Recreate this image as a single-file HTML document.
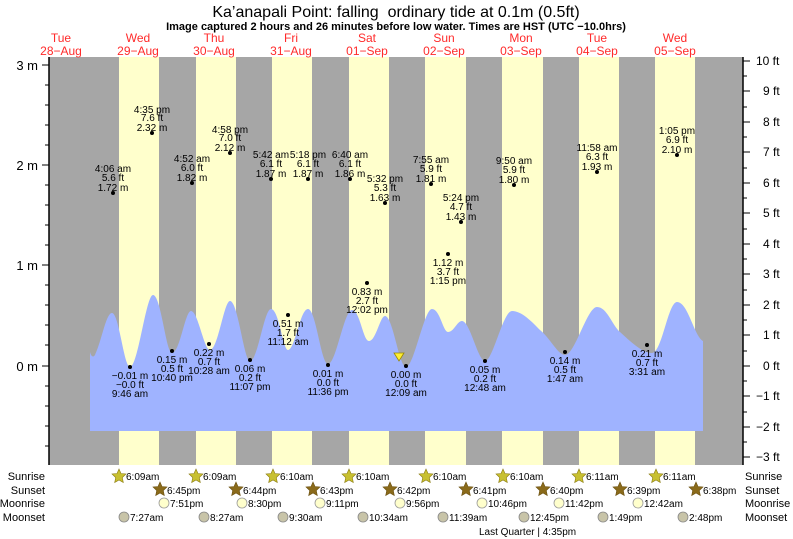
<!DOCTYPE html>
<html><head><meta charset="utf-8"><style>
body{margin:0;background:#fff}
svg{display:block;font-family:"Liberation Sans",sans-serif}
</style></head><body>
<svg width="793" height="539" xmlns="http://www.w3.org/2000/svg">
<rect x="49" y="57" width="694" height="408" fill="#a6a6a6"/>
<g fill="#ffffcc">
<rect x="119" y="57" width="40" height="408"/><rect x="196" y="57" width="40" height="408"/>
<rect x="272" y="57" width="40" height="408"/><rect x="349" y="57" width="40" height="408"/>
<rect x="425" y="57" width="41" height="408"/><rect x="502" y="57" width="41" height="408"/>
<rect x="579" y="57" width="40" height="408"/><rect x="655" y="57" width="40" height="408"/>
</g>
<path fill="#9fb3ff" d="M90,431 L90,352 C91,356 93,358 95,355 C102,340 106,313 112,313 C119,313 124,367 130,367 C138,367 146,295 153,295 C161,295 166,353 172,353 C180,353 185,311 191,311 C198,311 204,350 210,350 C218,350 224,301 230,301 C238,301 244,361 250,361 C258,361 264,309 271,309 C279,309 283,350 288,350 C295,350 300,309 308,309 C316,309 321,364 328,364 C336,364 344,310 352,310 C360,310 363,341 369,341 C376,341 380,316 385,316 C393,316 399,367 406,367 C414,367 424,309 432,309 C440,309 443,332 448,332 C454,332 457,321 462,321 C470,321 478,361 485,361 C493,361 503,311 512,311 C522,311 532,322 540,330 C550,338 558,355 565,355 C575,355 587,307 597,307 C607,307 612,325 620,332 C630,341 642,353 652,353 C662,353 668,302 677,302 C688,302 694,336 703,341 L703,431 Z"/>
<line x1="49" y1="57" x2="49" y2="465" stroke="#000" stroke-width="1.5"/>
<line x1="743" y1="57" x2="743" y2="465" stroke="#000" stroke-width="1.5"/>
<g stroke="#000" stroke-width="1">
<line x1="42" y1="65" x2="49" y2="65"/><line x1="42" y1="165" x2="49" y2="165"/><line x1="42" y1="265" x2="49" y2="265"/><line x1="42" y1="366" x2="49" y2="366"/>
<line x1="45" y1="85" x2="49" y2="85"/><line x1="45" y1="105" x2="49" y2="105"/><line x1="45" y1="125" x2="49" y2="125"/><line x1="45" y1="145" x2="49" y2="145"/>
<line x1="45" y1="185" x2="49" y2="185"/><line x1="45" y1="205" x2="49" y2="205"/><line x1="45" y1="225" x2="49" y2="225"/><line x1="45" y1="245" x2="49" y2="245"/>
<line x1="45" y1="285" x2="49" y2="285"/><line x1="45" y1="305" x2="49" y2="305"/><line x1="45" y1="325" x2="49" y2="325"/><line x1="45" y1="345" x2="49" y2="345"/>
<line x1="45" y1="386" x2="49" y2="386"/><line x1="45" y1="406" x2="49" y2="406"/><line x1="45" y1="426" x2="49" y2="426"/><line x1="45" y1="446" x2="49" y2="446"/>
</g>
<g stroke="#000" stroke-width="1">
<line x1="743" y1="61" x2="750" y2="61"/><line x1="743" y1="91" x2="750" y2="91"/><line x1="743" y1="122" x2="750" y2="122"/><line x1="743" y1="152" x2="750" y2="152"/><line x1="743" y1="183" x2="750" y2="183"/><line x1="743" y1="213" x2="750" y2="213"/><line x1="743" y1="244" x2="750" y2="244"/><line x1="743" y1="274" x2="750" y2="274"/><line x1="743" y1="305" x2="750" y2="305"/><line x1="743" y1="335" x2="750" y2="335"/><line x1="743" y1="366" x2="750" y2="366"/><line x1="743" y1="396" x2="750" y2="396"/><line x1="743" y1="427" x2="750" y2="427"/><line x1="743" y1="457" x2="750" y2="457"/>
<line x1="743" y1="76" x2="747" y2="76"/><line x1="743" y1="107" x2="747" y2="107"/><line x1="743" y1="137" x2="747" y2="137"/><line x1="743" y1="168" x2="747" y2="168"/><line x1="743" y1="198" x2="747" y2="198"/><line x1="743" y1="229" x2="747" y2="229"/><line x1="743" y1="259" x2="747" y2="259"/><line x1="743" y1="290" x2="747" y2="290"/><line x1="743" y1="320" x2="747" y2="320"/><line x1="743" y1="351" x2="747" y2="351"/><line x1="743" y1="381" x2="747" y2="381"/><line x1="743" y1="412" x2="747" y2="412"/><line x1="743" y1="442" x2="747" y2="442"/>
</g>
<g font-size="13" fill="#000">
<text x="38" y="70" text-anchor="end">3 m</text><text x="38" y="170" text-anchor="end">2 m</text><text x="38" y="270" text-anchor="end">1 m</text><text x="38" y="371" text-anchor="end">0 m</text>
</g>
<g font-size="12" fill="#000">
<text x="756" y="65">10 ft</text><text x="763" y="95">9 ft</text><text x="763" y="126">8 ft</text><text x="763" y="156">7 ft</text><text x="763" y="187">6 ft</text><text x="763" y="217">5 ft</text><text x="763" y="248">4 ft</text><text x="763" y="278">3 ft</text><text x="763" y="309">2 ft</text><text x="763" y="339">1 ft</text><text x="763" y="370">0 ft</text><text x="756" y="400">−1 ft</text><text x="756" y="431">−2 ft</text><text x="756" y="461">−3 ft</text>
</g>
<text x="396" y="17" font-size="16" text-anchor="middle">Ka’anapali Point: falling&#160; ordinary tide at 0.1m (0.5ft)</text>
<text x="396" y="30" font-size="11" font-weight="bold" text-anchor="middle">Image captured 2 hours and 26 minutes before low water. Times are HST (UTC −10.0hrs)</text>
<g font-size="12" fill="#ff2a2a" text-anchor="middle">
<text x="61" y="42">Tue</text><text x="61" y="55">28−Aug</text>
<text x="138" y="42">Wed</text><text x="138" y="55">29−Aug</text>
<text x="214" y="42">Thu</text><text x="214" y="55">30−Aug</text>
<text x="291" y="42">Fri</text><text x="291" y="55">31−Aug</text>
<text x="367" y="42">Sat</text><text x="367" y="55">01−Sep</text>
<text x="444" y="42">Sun</text><text x="444" y="55">02−Sep</text>
<text x="521" y="42">Mon</text><text x="521" y="55">03−Sep</text>
<text x="597" y="42">Tue</text><text x="597" y="55">04−Sep</text>
<text x="675" y="42">Wed</text><text x="675" y="55">05−Sep</text>
</g>
<g font-size="10" fill="#000" text-anchor="middle">
<circle cx="113" cy="193" r="2"/><text x="113" y="172">4:06 am</text><text x="113" y="181">5.6 ft</text><text x="113" y="191">1.72 m</text>
<circle cx="152" cy="133" r="2"/><text x="152" y="113">4:35 pm</text><text x="152" y="121">7.6 ft</text><text x="152" y="131">2.32 m</text>
<circle cx="192" cy="183" r="2"/><text x="192" y="162">4:52 am</text><text x="192" y="171">6.0 ft</text><text x="192" y="181">1.82 m</text>
<circle cx="230" cy="153" r="2"/><text x="230" y="133">4:58 pm</text><text x="230" y="141">7.0 ft</text><text x="230" y="151">2.12 m</text>
<circle cx="271" cy="179" r="2"/><text x="271" y="158">5:42 am</text><text x="271" y="167">6.1 ft</text><text x="271" y="177">1.87 m</text>
<circle cx="308" cy="179" r="2"/><text x="308" y="158">5:18 pm</text><text x="308" y="167">6.1 ft</text><text x="308" y="177">1.87 m</text>
<circle cx="350" cy="179" r="2"/><text x="350" y="158">6:40 am</text><text x="350" y="167">6.1 ft</text><text x="350" y="177">1.86 m</text>
<circle cx="385" cy="203" r="2"/><text x="385" y="182">5:32 pm</text><text x="385" y="191">5.3 ft</text><text x="385" y="201">1.63 m</text>
<circle cx="431" cy="184" r="2"/><text x="431" y="163">7:55 am</text><text x="431" y="172">5.9 ft</text><text x="431" y="182">1.81 m</text>
<circle cx="461" cy="222" r="2"/><text x="461" y="201">5:24 pm</text><text x="461" y="210">4.7 ft</text><text x="461" y="220">1.43 m</text>
<circle cx="514" cy="185" r="2"/><text x="514" y="164">9:50 am</text><text x="514" y="173">5.9 ft</text><text x="514" y="183">1.80 m</text>
<circle cx="597" cy="172" r="2"/><text x="597" y="151">11:58 am</text><text x="597" y="160">6.3 ft</text><text x="597" y="170">1.93 m</text>
<circle cx="677" cy="155" r="2"/><text x="677" y="134">1:05 pm</text><text x="677" y="143">6.9 ft</text><text x="677" y="153">2.10 m</text>

<circle cx="448" cy="254" r="2"/><text x="448" y="266">1.12 m</text><text x="448" y="275">3.7 ft</text><text x="448" y="284">1:15 pm</text>
<circle cx="367" cy="283" r="2"/><text x="367" y="295">0.83 m</text><text x="367" y="304">2.7 ft</text><text x="367" y="313">12:02 pm</text>
<circle cx="288" cy="315" r="2"/><text x="288" y="327">0.51 m</text><text x="288" y="336">1.7 ft</text><text x="288" y="345">11:12 am</text>
<circle cx="130" cy="367" r="2"/><text x="130" y="379">−0.01 m</text><text x="130" y="388">−0.0 ft</text><text x="130" y="397">9:46 am</text>
<circle cx="172" cy="351" r="2"/><text x="172" y="363">0.15 m</text><text x="172" y="372">0.5 ft</text><text x="172" y="381">10:40 pm</text>
<circle cx="209" cy="344" r="2"/><text x="209" y="356">0.22 m</text><text x="209" y="365">0.7 ft</text><text x="209" y="374">10:28 am</text>
<circle cx="250" cy="360" r="2"/><text x="250" y="372">0.06 m</text><text x="250" y="381">0.2 ft</text><text x="250" y="390">11:07 pm</text>
<circle cx="328" cy="365" r="2"/><text x="328" y="377">0.01 m</text><text x="328" y="386">0.0 ft</text><text x="328" y="395">11:36 pm</text>
<circle cx="406" cy="366" r="2"/><text x="406" y="378">0.00 m</text><text x="406" y="387">0.0 ft</text><text x="406" y="396">12:09 am</text>
<circle cx="485" cy="361" r="2"/><text x="485" y="373">0.05 m</text><text x="485" y="382">0.2 ft</text><text x="485" y="391">12:48 am</text>
<circle cx="565" cy="352" r="2"/><text x="565" y="364">0.14 m</text><text x="565" y="373">0.5 ft</text><text x="565" y="382">1:47 am</text>
<circle cx="647" cy="345" r="2"/><text x="647" y="357">0.21 m</text><text x="647" y="366">0.7 ft</text><text x="647" y="375">3:31 am</text>
</g>
<path d="M394,353 L404,353 L399,361 Z" fill="#ffee33" stroke="#998800" stroke-width="0.8"/>
<g font-size="11" fill="#000">
<text x="45" y="480" text-anchor="end">Sunrise</text><text x="45" y="494" text-anchor="end">Sunset</text><text x="45" y="507" text-anchor="end">Moonrise</text><text x="45" y="521" text-anchor="end">Moonset</text>
<text x="745" y="480">Sunrise</text><text x="745" y="494">Sunset</text><text x="745" y="507">Moonrise</text><text x="745" y="521">Moonset</text>
</g>
<defs>
<polygon id="st" points="0,-7 2,-2.5 7,-2 3.3,1.5 4.3,6.5 0,4 -4.3,6.5 -3.3,1.5 -7,-2 -2,-2.5"/>
</defs>
<g font-size="10" fill="#000">
<g fill="#c8c030" stroke="#8a7a10" stroke-width="0.6">
<use href="#st" x="119" y="476"/><use href="#st" x="196" y="476"/><use href="#st" x="273" y="476"/><use href="#st" x="349" y="476"/><use href="#st" x="426" y="476"/><use href="#st" x="503" y="476"/><use href="#st" x="579" y="476"/><use href="#st" x="656" y="476"/>
</g>
<text x="126" y="480">6:09am</text><text x="203" y="480">6:09am</text><text x="280" y="480">6:10am</text><text x="356" y="480">6:10am</text><text x="433" y="480">6:10am</text><text x="510" y="480">6:10am</text><text x="586" y="480">6:11am</text><text x="663" y="480">6:11am</text>
<g fill="#8a6a1a" stroke="#6a5010" stroke-width="0.6">
<use href="#st" x="160" y="489"/><use href="#st" x="236" y="489"/><use href="#st" x="313" y="489"/><use href="#st" x="390" y="489"/><use href="#st" x="466" y="489"/><use href="#st" x="543" y="489"/><use href="#st" x="620" y="489"/><use href="#st" x="696" y="489"/>
</g>
<text x="167" y="494">6:45pm</text><text x="243" y="494">6:44pm</text><text x="320" y="494">6:43pm</text><text x="397" y="494">6:42pm</text><text x="473" y="494">6:41pm</text><text x="550" y="494">6:40pm</text><text x="627" y="494">6:39pm</text><text x="703" y="494">6:38pm</text>
<g fill="#ffffcc" stroke="#999" stroke-width="0.8">
<circle cx="164" cy="503" r="5"/><circle cx="242" cy="503" r="5"/><circle cx="320" cy="503" r="5"/><circle cx="400" cy="503" r="5"/><circle cx="482" cy="503" r="5"/><circle cx="559" cy="503" r="5"/><circle cx="638" cy="503" r="5"/>
</g>
<text x="170" y="507">7:51pm</text><text x="248" y="507">8:30pm</text><text x="326" y="507">9:11pm</text><text x="406" y="507">9:56pm</text><text x="488" y="507">10:46pm</text><text x="565" y="507">11:42pm</text><text x="644" y="507">12:42am</text>
<g fill="#c8c4a8" stroke="#888" stroke-width="0.8">
<circle cx="124" cy="517" r="5"/><circle cx="204" cy="517" r="5"/><circle cx="283" cy="517" r="5"/><circle cx="363" cy="517" r="5"/><circle cx="443" cy="517" r="5"/><circle cx="524" cy="517" r="5"/><circle cx="603" cy="517" r="5"/><circle cx="683" cy="517" r="5"/>
</g>
<text x="130" y="521">7:27am</text><text x="210" y="521">8:27am</text><text x="289" y="521">9:30am</text><text x="369" y="521">10:34am</text><text x="449" y="521">11:39am</text><text x="530" y="521">12:45pm</text><text x="609" y="521">1:49pm</text><text x="689" y="521">2:48pm</text>
<text x="479" y="535" font-size="10">Last Quarter | 4:35pm</text>
</g>
</svg>
</body></html>
